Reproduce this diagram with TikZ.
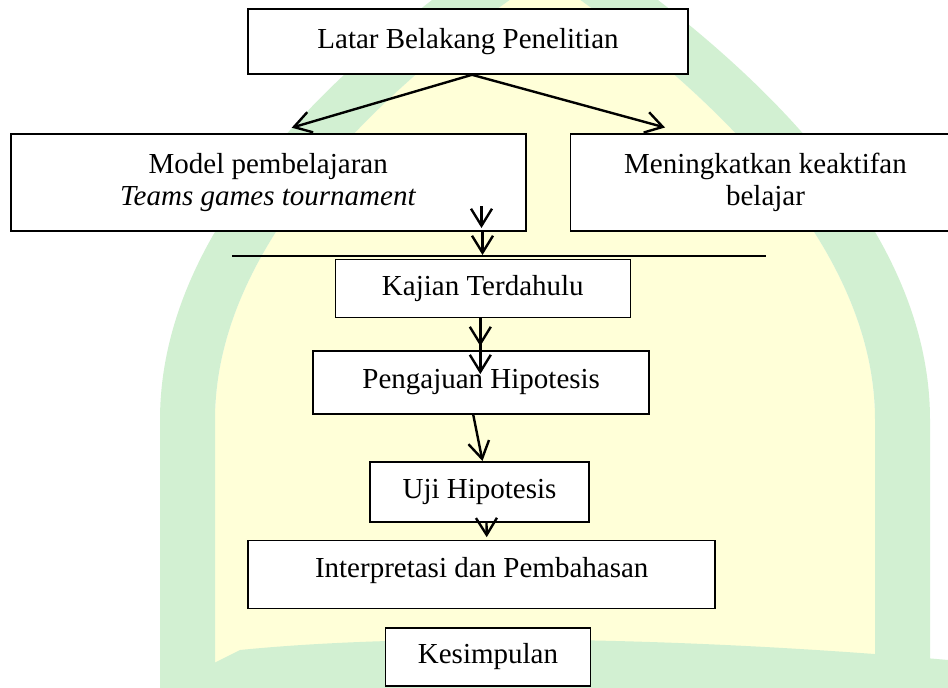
\documentclass[tikz,border=0pt]{standalone}
\usepackage{fontspec}
\setmainfont{Liberation Serif}
\usepackage{xcolor}
\usepackage{tikz}
\usetikzlibrary{
  arrows.meta,
  positioning,
  calc,
  backgrounds
}
\definecolor{kfInk}{HTML}{000000}
\definecolor{kfGreen}{HTML}{D2F0D2}
\definecolor{kfYellow}{HTML}{FFFFD8}
\tikzset{
  kfbox/.style={
    draw=kfInk, line width=1.6pt, fill=white, inner sep=0pt,
    align=center, font=\fontsize{29}{32}\selectfont
  },
  kfflow/.style={-{Straight Barb[length=17pt, width=21pt]}, line width=2.4pt, kfInk},
  kfrule/.style={line width=2.2pt, kfInk},
  kfmark/.style={fill=#1}
}

\begin{document}
\begin{tikzpicture}[x=1pt, y=-1pt]
  \useasboundingbox (0,0) rectangle (948,688);
  \clip (0,0) rectangle (948,688);
  % watermark behind the chart
  \fill[white] (0,0) rectangle (948,688);
  \fill[kfmark=kfYellow] (215,700) -- (215,420) .. controls (215,250) and (370,95) .. (545,-25)
    .. controls (720,95) and (875,250) .. (875,420) -- (875,700) -- cycle;
  \fill[kfmark=kfGreen, even odd rule]
    (160,700) -- (160,420) .. controls (160,230) and (330,60) .. (545,-80)
    .. controls (760,60) and (930,230) .. (930,420) -- (930,700) -- cycle
    (215,700) -- (215,420) .. controls (215,250) and (370,95) .. (545,-25)
    .. controls (720,95) and (875,250) .. (875,420) -- (875,700) -- cycle;
  \fill[kfmark=kfGreen] (140,700) -- (240,650) .. controls (420,632) and (700,638) .. (948,660)
    -- (948,700) -- cycle;

  % boxes
  \node[kfbox, minimum width=440pt, minimum height=65pt] (lbp) at (468,41.5) {Latar Belakang Penelitian};
  \node[kfbox, minimum width=515pt, minimum height=97pt] (mpb) at (268.2,182.7)
    {Model pembelajaran\\ \textit{Teams games tournament}};
  \node[kfbox, minimum width=390pt, minimum height=97pt] (mka) at (765.5,182.7)
    {Meningkatkan keaktifan\\ belajar};
  \node[kfbox, minimum width=295pt, minimum height=58pt] (kjt) at (482.8,288.3) {Kajian Terdahulu};
  \node[kfbox, minimum width=336pt, minimum height=63pt] (phi) at (481.2,382.3) {Pengajuan Hipotesis};
  \node[kfbox, minimum width=219pt, minimum height=60pt] (uhi) at (479.5,491.8) {Uji Hipotesis};
  \node[kfbox, minimum width=467pt, minimum height=68pt, text depth=14pt] (idp) at (481.7,574.5)
    {Interpretasi dan Pembahasan};
  \node[kfbox, minimum width=205pt, minimum height=58pt] (ksp) at (488,656.9) {Kesimpulan};

  % connectors
  \coordinate (tipL) at (291.7,127.7);
  \coordinate (tipR) at (665,127.5);
  \coordinate (ruleW) at (232,256);
  \coordinate (ruleE) at (766,256);
  \draw[kfflow] ([xshift=4pt]lbp.south) -- (tipL);
  \draw[kfflow] ([xshift=4pt]lbp.south) -- (tipR);
  \draw[kfrule] (ruleW) -- (ruleE);
  \draw[kfflow] ([xshift=-45pt, yshift=26pt]mpb.south east) -- ([xshift=-45pt, yshift=4pt]mpb.south east);
  \draw[kfflow] ([xshift=-44pt]mpb.south east) -- ([xshift=-44pt, yshift=-23pt]mpb.south east);
  \draw[kfflow] ([xshift=-2.5pt]kjt.south) -- ++(0,28);
  \draw[kfflow] ([xshift=-2.5pt]kjt.south) -- ++(0,56);
  \draw[kfflow] ([xshift=-8pt]phi.south) -- ([xshift=3pt]uhi.north);
  \draw[kfflow] ([xshift=7pt]uhi.south) -- ([xshift=5pt, yshift=2.5pt]idp.north);
\end{tikzpicture}
\end{document}
